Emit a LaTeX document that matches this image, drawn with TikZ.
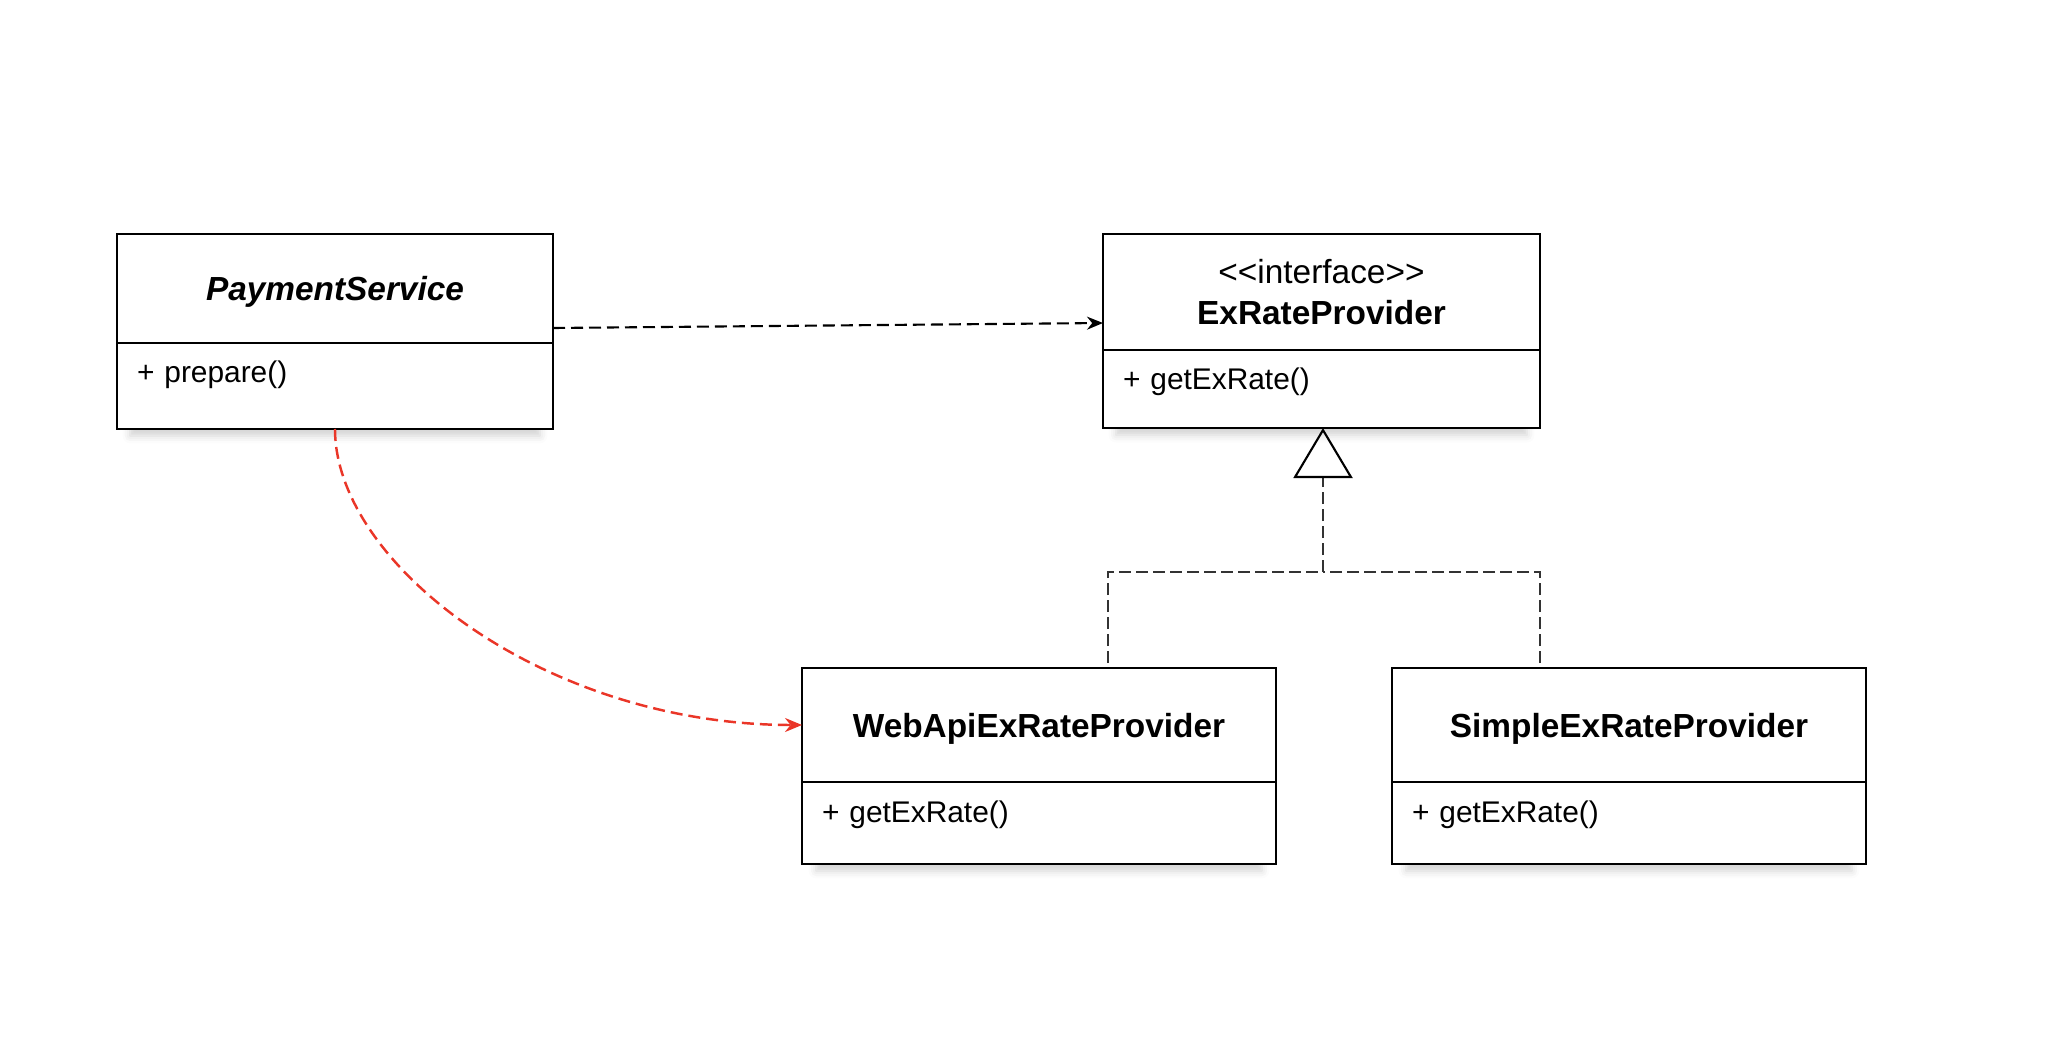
\documentclass[tikz,border=0pt]{standalone}
\usepackage{fontspec}
\setmainfont{Liberation Sans}
\usetikzlibrary{arrows.meta, positioning, calc, shadows.blur}
\definecolor{CallRed}{RGB}{234,54,40}
\definecolor{LineGray}{RGB}{51,51,51}

\begin{document}
\begin{tikzpicture}[
    classname/.style={draw, fill=white, line width=0.6pt, outer sep=0pt,
        anchor=north west, align=center, text depth=0pt,
        font=\fontsize{9.5}{11.7}\selectfont\bfseries},
    members/.style 2 args={draw, fill=white, line width=0.6pt, outer sep=0pt,
        align=left, inner xsep=0.2cm, inner ysep=0pt,
        text width=#1, text height=0.4cm, text depth=#2,
        font=\fontsize{8.5}{10}\selectfont,
        blur shadow={shadow xshift=0pt, shadow yshift=-0.1cm, shadow scale=0.94,
            shadow opacity=18, shadow blur radius=0.08cm}},
    uses/.style={-{Stealth[length=0.16cm, width=0.13cm]}, line width=0.6pt,
        dash pattern=on 0.12cm off 0.06cm},
    call/.style={CallRed, -{Stealth[length=0.17cm, width=0.14cm]}, line width=0.7pt,
        dash pattern=on 0.12cm off 0.06cm},
    realize/.style={LineGray, line width=0.6pt, dash pattern=on 0.12cm off 0.05cm},
]
\useasboundingbox (0,0) rectangle (20.46,-10.54);

% client
\node[classname, minimum width=4.36cm, minimum height=1.09cm] (ps) at (1.17,-2.34)
    {\itshape PaymentService};
\node[members={3.96cm}{0.46cm}, below=0pt of ps] (psm) {+ prepare()};

% interface
\node[classname, minimum width=4.37cm, minimum height=1.16cm, text depth=-0.04cm]
    (erp) at (11.03,-2.34) {\mdseries <{}<interface>{}>\\ExRateProvider};
\node[members={3.97cm}{0.38cm}, below=0pt of erp] (erpm) {+ getExRate()};

% implementations
\node[classname, minimum width=4.74cm, minimum height=1.14cm] (web) at (8.02,-6.68)
    {WebApiExRateProvider};
\node[members={4.34cm}{0.42cm}, below=0pt of web] (webm) {+ getExRate()};
\node[classname, minimum width=4.74cm, minimum height=1.14cm] (simple) at (13.92,-6.68)
    {SimpleExRateProvider};
\node[members={4.34cm}{0.42cm}, below=0pt of simple] (simplem) {+ getExRate()};

% dependencies
\draw[uses] ([yshift=-0.395cm]ps.east) -- ([yshift=-0.31cm]erp.west);
\draw[call] (psm.south) .. controls +(0,-1.35) and +(-2.57,0) .. (web.west);

% realization
\coordinate (join) at ($(erpm.south)+(0.015,-1.44)$);
\foreach \c/\a/\dx in {web/south west/0.05, simple/south east/0}
    \draw[realize] ($(\c.north -| erpm.\a)+(\dx,0.05)$) |- (join);
\draw[realize, -{Triangle[open, black, length=0.5cm, width=0.59cm, line width=0.6pt]}]
    (join) -- ([xshift=0.015cm]erpm.south);

\end{tikzpicture}
\end{document}
